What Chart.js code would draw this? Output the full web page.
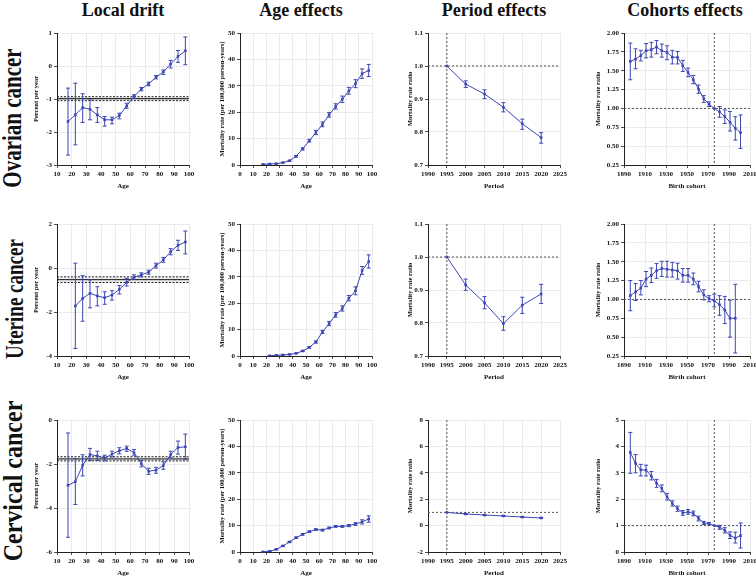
<!DOCTYPE html>
<html><head><meta charset="utf-8">
<script src="https://cdn.jsdelivr.net/npm/chart.js@4.4.1/dist/chart.umd.min.js"></script>
<style>
html,body{margin:0;padding:0;background:#fff}
body{width:756px;height:576px;position:relative;overflow:hidden;font-family:'Liberation Serif','Times New Roman',serif;color:#111}
.ct{position:absolute;top:0;font-weight:bold;font-size:18px;line-height:20px;white-space:nowrap;transform:translateX(-50%)}
.rl{position:absolute;font-weight:bold;white-space:nowrap;line-height:1}
.pw{position:absolute}
</style></head><body>
<div class="ct" style="left:123px">Local drift</div>
<div class="ct" style="left:301px">Age effects</div>
<div class="ct" style="left:494px">Period effects</div>
<div class="ct" style="left:685px">Cohorts effects</div>
<div class="rl" style="left:13px;top:118px;font-size:21px;transform:translate(-50%,-50%) rotate(-90deg) scale(1,1.3)">Ovarian cancer</div>
<div class="rl" style="left:14px;top:299px;font-size:19px;transform:translate(-50%,-50%) rotate(-90deg) scale(1,1.35)">Uterine cancer</div>
<div class="rl" style="left:13px;top:481px;font-size:24px;transform:translate(-50%,-50%) rotate(-90deg) scale(1,1.15)">Cervical cancer</div>
<script>
// ---------- categories ----------
const ages17 = [17.5,22.5,27.5,32.5,37.5,42.5,47.5,52.5,57.5,62.5,67.5,72.5,77.5,82.5,87.5,92.5,97.5];
const ages16 = [22.5,27.5,32.5,37.5,42.5,47.5,52.5,57.5,62.5,67.5,72.5,77.5,82.5,87.5,92.5,97.5];
const periods = [1995,2000,2005,2010,2015,2020];
const cohorts22 = [1896,1901,1906,1911,1916,1921,1926,1931,1936,1941,1946,1951,1956,1961,1966,1971,1976,1981,1986,1991,1996,2001];
const cohorts21 = [1896,1901,1906,1911,1916,1921,1926,1931,1936,1941,1946,1951,1956,1961,1966,1971,1976,1981,1986,1991,1996];
const refPeriod = 1995;
const refCohort = 1976;

// ---------- Ovarian ----------
const ovDrift   = [-1.68,-1.48,-1.26,-1.31,-1.48,-1.63,-1.63,-1.50,-1.21,-0.92,-0.70,-0.54,-0.34,-0.18,0.06,0.29,0.46];
const ovDriftLo = [-2.70,-2.39,-1.71,-1.63,-1.71,-1.82,-1.75,-1.60,-1.28,-0.98,-0.75,-0.60,-0.39,-0.26,-0.06,0.11,0.04];
const ovDriftHi = [-0.67,-0.52,-0.84,-1.03,-1.26,-1.53,-1.55,-1.43,-1.13,-0.87,-0.65,-0.49,-0.29,-0.12,0.17,0.47,0.88];
const ovNetDrift = [-0.99,-0.93,-1.05];
const ovAge   = [0.25,0.4,0.5,0.9,1.6,3.3,6.1,9.2,12.3,15.4,19.0,22.2,24.9,28.1,30.8,34.6,35.8];
const ovAgeLo = [0.2,0.3,0.4,0.8,1.4,3.0,5.7,8.7,11.5,14.5,18.1,21.2,23.7,26.8,29.3,32.8,33.5];
const ovAgeHi = [0.3,0.5,0.6,1.0,1.8,3.6,6.5,9.7,13.1,16.3,19.9,23.2,26.1,29.4,32.3,36.4,38.1];
const ovPeriod   = [1.0,0.945,0.915,0.875,0.825,0.783];
const ovPeriodLo = [null,0.935,0.901,0.861,0.808,0.766];
const ovPeriodHi = [null,0.955,0.928,0.889,0.839,0.798];
const ovCohort   = [1.623,1.654,1.70,1.765,1.78,1.814,1.765,1.743,1.68,1.677,1.566,1.477,1.38,1.256,1.127,1.056,1.0,0.954,0.892,0.817,0.737,0.68];
const ovCohortLo = [1.38,1.526,1.63,1.67,1.68,1.725,1.68,1.646,1.59,1.59,1.49,1.42,1.327,1.2,1.08,1.025,null,0.883,0.80,0.70,0.58,0.47];
const ovCohortHi = [1.867,1.79,1.77,1.86,1.876,1.90,1.853,1.83,1.77,1.756,1.637,1.535,1.437,1.31,1.17,1.087,null,1.025,0.98,0.96,0.89,0.914];

// ---------- Uterine ----------
const utDrift   = [-1.73,-1.38,-1.15,-1.27,-1.35,-1.23,-0.97,-0.65,-0.42,-0.31,-0.19,0.11,0.37,0.74,1.03,1.18];
const utDriftLo = [-3.66,-2.42,-1.81,-1.72,-1.65,-1.46,-1.18,-0.82,-0.51,-0.40,-0.28,0.0,0.26,0.60,0.80,0.64];
const utDriftHi = [0.22,-0.35,-0.54,-0.85,-1.08,-1.03,-0.80,-0.47,-0.31,-0.22,-0.10,0.22,0.48,0.88,1.26,1.68];
const utNetDrift = [-0.53,-0.40,-0.66];
const utAge   = [0.1,0.25,0.4,0.6,1.0,1.9,3.3,5.3,9.1,12.3,15.6,18.0,21.9,24.7,32.4,35.8];
const utAgeLo = [0.05,0.15,0.3,0.5,0.9,1.7,3.0,4.9,8.5,11.5,14.7,17.0,20.9,23.2,30.9,33.3];
const utAgeHi = [0.15,0.35,0.5,0.7,1.1,2.1,3.6,5.7,9.7,13.1,16.5,19.0,22.9,26.2,33.9,38.3];
const utPeriod   = [1.0,0.915,0.861,0.798,0.854,0.888];
const utPeriodLo = [null,0.899,0.843,0.778,0.829,0.859];
const utPeriodHi = [null,0.933,0.880,0.819,0.878,0.917];
const utCohort   = [1.05,1.10,1.15,1.27,1.32,1.38,1.41,1.40,1.39,1.38,1.32,1.32,1.27,1.17,1.06,1.01,0.98,0.93,0.86,0.75,0.75];
const utCohortLo = [0.85,0.985,1.06,1.17,1.225,1.28,1.305,1.297,1.297,1.27,1.23,1.23,1.194,1.10,0.994,0.97,0.90,0.79,0.68,0.50,0.29];
const utCohortHi = [1.25,1.21,1.25,1.37,1.417,1.475,1.506,1.506,1.49,1.48,1.41,1.41,1.35,1.24,1.127,1.05,1.07,1.05,1.04,0.99,1.20];

// ---------- Cervical ----------
const cvDrift   = [-2.97,-2.80,-2.06,-1.57,-1.63,-1.74,-1.55,-1.40,-1.29,-1.48,-1.99,-2.33,-2.28,-2.07,-1.57,-1.25,-1.22];
const cvDriftLo = [-5.33,-3.84,-2.54,-1.84,-1.84,-1.86,-1.68,-1.54,-1.42,-1.60,-2.13,-2.47,-2.42,-2.24,-1.72,-1.55,-1.78];
const cvDriftHi = [-0.59,-1.75,-1.58,-1.29,-1.42,-1.60,-1.42,-1.26,-1.19,-1.34,-1.84,-2.19,-2.15,-1.90,-1.42,-0.96,-0.64];
const cvNetDrift = [-1.77,-1.67,-1.86];
const cvAge   = [0.05,0.3,1.0,2.3,3.8,5.4,6.7,7.7,8.5,8.3,9.1,9.7,9.7,10.0,10.6,11.4,12.5];
const cvAgeLo = [0,0.2,0.85,2.1,3.6,5.1,6.4,7.4,8.2,8.0,8.8,9.4,9.4,9.6,10.1,10.6,11.3];
const cvAgeHi = [0.1,0.4,1.15,2.5,4.0,5.7,7.0,8.0,8.8,8.6,9.4,10.0,10.0,10.4,11.1,12.2,13.7];
const cvPeriod   = [1.0,0.88,0.80,0.73,0.65,0.58];
const cvPeriodLo = [null,0.84,0.76,0.69,0.61,0.54];
const cvPeriodHi = [null,0.92,0.84,0.77,0.69,0.62];
const cvCohort   = [3.77,3.36,3.11,3.10,2.88,2.60,2.41,2.09,1.84,1.64,1.48,1.52,1.46,1.27,1.10,1.07,1.0,0.94,0.82,0.63,0.53,0.62];
const cvCohortLo = [2.98,3.0,2.88,2.88,2.73,2.45,2.28,1.97,1.74,1.54,1.39,1.43,1.37,1.18,1.04,1.02,null,0.86,0.72,0.51,0.34,0.15];
const cvCohortHi = [4.53,3.69,3.32,3.29,3.05,2.75,2.54,2.22,1.94,1.74,1.57,1.61,1.55,1.36,1.16,1.12,null,1.01,0.92,0.76,0.75,1.10];

// ---------- axis titles ----------
const xTitles = ['Age','Age','Period','Birth cohort'];
const yTitles = ['Percent per year','Mortality rate (per 100,000 person-years)','Mortality rate ratio','Mortality rate ratio'];

// ---------- drawing ----------
const FONT = "'Liberation Serif','Times New Roman',serif";
const BLUE = '#3c46b4';

const refPlugin = {
  id: 'refs',
  beforeDatasetsDraw(chart) {
    const o = chart.options.plugins.refs || {};
    const {ctx, chartArea: a, scales: {x, y}} = chart;
    ctx.save();
    ctx.lineWidth = 1;
    if (o.net) {
      const yu = y.getPixelForValue(o.net[1]), yl = y.getPixelForValue(o.net[2]);
      ctx.fillStyle = 'rgba(0,0,0,0.08)';
      ctx.fillRect(a.left, yu, a.right - a.left, yl - yu);
      ctx.strokeStyle = '#222';
      ctx.setLineDash([2, 1.5]);
      [yu, yl].forEach(p => { ctx.beginPath(); ctx.moveTo(a.left, p); ctx.lineTo(a.right, p); ctx.stroke(); });
      ctx.setLineDash([]);
      const ym = y.getPixelForValue(o.net[0]);
      ctx.strokeStyle = '#111';
      ctx.beginPath(); ctx.moveTo(a.left, ym); ctx.lineTo(a.right, ym); ctx.stroke();
    }
    ctx.strokeStyle = '#555';
    ctx.setLineDash([2, 2]);
    if (o.h != null) {
      const p = y.getPixelForValue(o.h);
      ctx.beginPath(); ctx.moveTo(a.left, p); ctx.lineTo(a.right, p); ctx.stroke();
    }
    if (o.v != null) {
      const p = x.getPixelForValue(o.v);
      ctx.beginPath(); ctx.moveTo(p, a.top); ctx.lineTo(p, a.bottom); ctx.stroke();
    }
    ctx.restore();
  },
  afterDatasetsDraw(chart) {
    const ds = chart.data.datasets[0];
    const {ctx, scales: {x, y}} = chart;
    ctx.save();
    ctx.strokeStyle = BLUE;
    ctx.lineWidth = 1;
    ds.data.forEach((d, i) => {
      const lo = ds.lo[i], hi = ds.hi[i];
      if (lo == null || hi == null) return;
      const px = x.getPixelForValue(d.x), p1 = y.getPixelForValue(lo), p2 = y.getPixelForValue(hi);
      ctx.beginPath();
      ctx.moveTo(px, p1); ctx.lineTo(px, p2);
      ctx.moveTo(px - 2, p1); ctx.lineTo(px + 2, p1);
      ctx.moveTo(px - 2, p2); ctx.lineTo(px + 2, p2);
      ctx.stroke();
    });
    ctx.restore();
  }
};

function fmt(dec) { return v => Number(v).toFixed(dec); }

function panel(o) {
  const padT = 7, padR = 14, xH = 27;
  const w = o.yW + (o.R - o.L) + padR, h = padT + (o.B - o.T) + xH;
  const div = document.createElement('div');
  div.className = 'pw';
  div.style.cssText = `left:${o.L - o.yW}px;top:${o.T - padT}px;width:${w}px;height:${h}px`;
  const c = document.createElement('canvas');
  div.appendChild(c);
  document.body.appendChild(div);
  const tickFont = {family: FONT, size: 7, weight: 'bold'};
  new Chart(c, {
    type: 'line',
    data: {datasets: [{
      data: o.xs.map((xv, i) => ({x: xv, y: o.ys[i]})),
      lo: o.lo, hi: o.hi,
      borderColor: BLUE, backgroundColor: BLUE, borderWidth: 1,
      pointStyle: 'rect', pointRadius: 1.8, pointBackgroundColor: BLUE, pointBorderWidth: 0,
      tension: 0, fill: false
    }]},
    options: {
      responsive: true, maintainAspectRatio: false, animation: false,
      layout: {padding: {top: padT, right: padR, left: 0, bottom: 0}},
      plugins: {legend: {display: false}, tooltip: {enabled: false}, refs: o.refs},
      scales: {
        x: {
          type: 'linear', min: o.xr[0], max: o.xr[1],
          ticks: {stepSize: o.xr[2], autoSkip: false, maxRotation: 0, font: tickFont, color: '#111', padding: 2, callback: v => String(v)},
          grid: {color: '#e6e6e6', tickColor: '#222', tickLength: 3, lineWidth: 0.8},
          border: {display: true, color: '#222', width: 1},
          title: {display: true, text: o.xt, font: {family: FONT, size: 7, weight: 'bold'}, color: '#111', padding: {top: 0, bottom: 2}},
          afterFit(s) { s.height = xH; }
        },
        y: {
          type: 'linear', min: o.yr[0], max: o.yr[1],
          ticks: {stepSize: o.yr[2], autoSkip: false, font: tickFont, color: '#111', padding: 2, callback: fmt(o.yr[3])},
          grid: {color: '#e6e6e6', tickColor: '#222', tickLength: 3, lineWidth: 0.8},
          border: {display: true, color: '#222', width: 1},
          title: {display: true, text: o.yt, font: {family: FONT, size: 6.5, weight: 'bold'}, color: '#111', padding: {top: 1, bottom: 0}},
          afterFit(s) { s.width = o.yW; }
        }
      }
    },
    plugins: [refPlugin]
  });
}

const cols = [
  {L: 57, R: 189, yW: 26},
  {L: 240, R: 372, yW: 23},
  {L: 428, R: 560, yW: 23},
  {L: 624, R: 750, yW: 31}
];
const rows = [[33, 165], [224, 356], [420, 552]];
const xRanges = [[10, 100, 10], [0, 100, 10], [1990, 2025, 5], [1890, 2010, 20]];

const specs = [
  // row 0: ovarian
  [{xs: ages17, ys: ovDrift, lo: ovDriftLo, hi: ovDriftHi, yr: [-3, 1, 1, 0], refs: {net: ovNetDrift}},
   {xs: ages17, ys: ovAge, lo: ovAgeLo, hi: ovAgeHi, yr: [0, 50, 10, 0], refs: {}},
   {xs: periods, ys: ovPeriod, lo: ovPeriodLo, hi: ovPeriodHi, yr: [0.7, 1.1, 0.1, 1], refs: {h: 1, v: refPeriod}},
   {xs: cohorts22, ys: ovCohort, lo: ovCohortLo, hi: ovCohortHi, yr: [0.25, 2, 0.25, 2], refs: {h: 1, v: refCohort}}],
  // row 1: uterine
  [{xs: ages16, ys: utDrift, lo: utDriftLo, hi: utDriftHi, yr: [-4, 2, 2, 0], refs: {net: utNetDrift}},
   {xs: ages16, ys: utAge, lo: utAgeLo, hi: utAgeHi, yr: [0, 50, 10, 0], refs: {}},
   {xs: periods, ys: utPeriod, lo: utPeriodLo, hi: utPeriodHi, yr: [0.7, 1.1, 0.1, 1], refs: {h: 1, v: refPeriod}},
   {xs: cohorts21, ys: utCohort, lo: utCohortLo, hi: utCohortHi, yr: [0.25, 2, 0.25, 2], refs: {h: 1, v: refCohort}}],
  // row 2: cervical
  [{xs: ages17, ys: cvDrift, lo: cvDriftLo, hi: cvDriftHi, yr: [-6, 0, 2, 0], refs: {net: cvNetDrift}},
   {xs: ages17, ys: cvAge, lo: cvAgeLo, hi: cvAgeHi, yr: [0, 50, 10, 0], refs: {}},
   {xs: periods, ys: cvPeriod, lo: cvPeriodLo, hi: cvPeriodHi, yr: [-2, 8, 2, 0], refs: {h: 1, v: refPeriod}},
   {xs: cohorts22, ys: cvCohort, lo: cvCohortLo, hi: cvCohortHi, yr: [0, 5, 1, 0], refs: {h: 1, v: refCohort}}]
];

specs.forEach((row, r) => row.forEach((s, ci) => {
  panel(Object.assign({}, s, cols[ci], {T: rows[r][0], B: rows[r][1], xr: xRanges[ci], xt: xTitles[ci], yt: yTitles[ci]}));
}));
</script>
</body></html>
